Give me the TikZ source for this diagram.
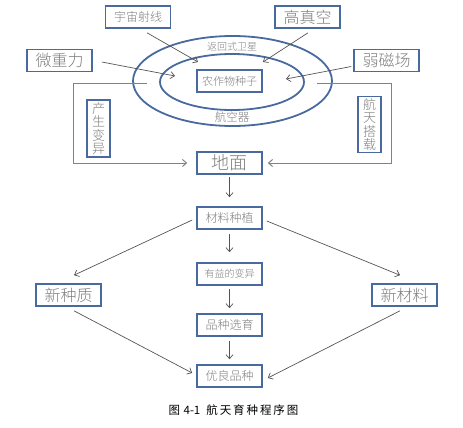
\documentclass[tikz,border=0pt]{standalone}
\usepackage{fontspec}
\setmainfont{Noto Sans CJK SC}[UprightFont={* Light}]
\newfontfamily\capfont{Noto Sans CJK SC}
\usetikzlibrary{arrows.meta,shapes.geometric}
\definecolor{bblue}{RGB}{72,106,158}
\definecolor{tgray}{RGB}{125,125,125}
\definecolor{agray}{RGB}{85,85,85}
\definecolor{lgray}{RGB}{130,130,130}
\newcommand{\fs}[1]{\fontsize{#1}{#1}\selectfont}
\begin{document}
\begin{tikzpicture}[x=1pt,y=-1pt,
  box/.style={draw=bblue,line width=1.6pt,minimum width=65pt,minimum height=22pt,inner sep=0pt,text=tgray},
  vbox/.style={draw=bblue,line width=1.6pt,minimum width=23pt,minimum height=57pt,inner sep=0pt,text=tgray,align=center,font=\fontsize{13}{13.5}\selectfont},
  arr/.style={draw=agray,line width=0.7pt,-{Straight Barb[length=4pt,width=7pt]}},
  bracket/.style={draw=lgray,line width=1pt,-{Straight Barb[length=4pt,width=7pt]}},
  oval/.style={draw=bblue,line width=1.8pt,ellipse,inner sep=0pt},
  lbl/.style={text=tgray,inner sep=0pt}
]
\useasboundingbox (0,0) rectangle (463,428);

\node[oval,minimum width=199pt,minimum height=90pt] (outer) at (232.5,81) {};
\node[oval,minimum width=144pt,minimum height=56pt] (inner) at (232,82) {};
\node[box,font=\fs{11}] (seed) at (229.5,81) {农作物种子};
\node[lbl,font=\fs{10}] (sat) at (232,47) {返回式卫星};
\node[lbl,font=\fs{11.5}] (craft) at (232,117) {航空器};

\node[box,font=\fs{12}] (cosmic) at (138,17) {宇宙射线};
\node[box,font=\fs{16}] (vacuum) at (307.5,17) {高真空};
\node[box,font=\fs{16}] (micro) at (59.5,60.5) {微重力};
\node[box,font=\fs{16}] (magnet) at (386.5,60.5) {弱磁场};
\node[vbox] (vary) at (98.5,128.5) {产\\生\\变\\异};
\node[vbox,minimum height=56pt] (carry) at (369.5,124.5) {航\\天\\搭\\载};

\node[box,font=\fs{18}] (ground) at (229.5,163) {地面};
\node[box,font=\fs{12}] (plant) at (229.5,218) {材料种植};
\node[box,font=\fs{10}] (benefit) at (229.5,274) {有益的变异};
\node[box,font=\fs{12}] (select) at (229.5,325) {品种选育};
\node[box,font=\fs{12}] (fine) at (229.5,376) {优良品种};
\node[box,font=\fs{16}] (germ) at (68.5,295) {新种质};
\node[box,font=\fs{16}] (newmat) at (404.5,295) {新材料};
\node[text=black,font=\capfont\fs{11.5}] (cap) at (233.5,410) {图\hspace{3.5pt}4-1\hspace{6pt}航\,天\,育\,种\,程\,序\,图};

\coordinate (t1) at (198,62);
\coordinate (t2) at (263,62);
\coordinate (t3) at (175,76);
\coordinate (t4) at (286,79);
\draw[arr] ([shift={(9,4)}]cosmic.south) -- (t1);
\draw[arr] ([shift={(0.5,4)}]vacuum.south) -- (t2);
\draw[arr] ([shift={(9,1.5)}]micro.east) -- (t3);
\draw[arr] ([shift={(-2,6)}]magnet.west) -- (t4);

\coordinate (lb) at (147,83);
\coordinate (lc1) at (73,83);
\coordinate (rb) at (317,83);
\coordinate (rc1) at (391,83);
\draw[bracket] (lb) -- (lc1) |- ([shift={(-9,0)}]ground.west);
\draw[bracket] (rb) -- (rc1) |- ([shift={(5,0)}]ground.east);

\draw[arr] ([shift={(0,2)}]ground.south) -- ([shift={(0,-9)}]plant.north);
\draw[arr] ([shift={(0,4)}]plant.south) -- ([shift={(0,-10)}]benefit.north);
\draw[arr] ([shift={(0,3)}]benefit.south) -- ([shift={(0,-5)}]select.north);
\draw[arr] ([shift={(0,4)}]select.south) -- ([shift={(0,-5)}]fine.north);

\draw[arr] ([shift={(-4,2)}]plant.west) -- ([shift={(5.5,-8)}]germ.north);
\draw[arr] ([shift={(4,3)}]plant.east) -- ([shift={(-4.5,-8)}]newmat.north);
\draw[arr] ([shift={(5.5,4)}]germ.south) -- ([shift={(-4,-3)}]fine.west);
\draw[arr] ([shift={(-4.5,4)}]newmat.south) -- ([shift={(5,2)}]fine.east);
\end{tikzpicture}
\end{document}
